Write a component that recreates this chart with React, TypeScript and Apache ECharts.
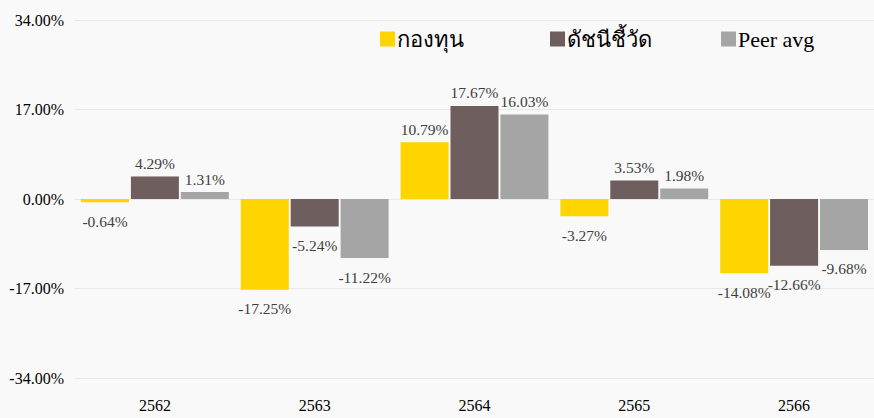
import React, { useEffect, useRef } from "react";
import * as echarts from "echarts";

const categories = ["2562", "2563", "2564", "2565", "2566"];
const seriesNames = ["กองทุน", "ดัชนีชี้วัด", "Peer avg"];
const fundValues = [-0.64, -17.25, 10.79, -3.27, -14.08];
const benchmarkValues = [4.29, -5.24, 17.67, 3.53, -12.66];
const peerValues = [1.31, -11.22, 16.03, 1.98, -9.68];
const colors = ["#FFD500", "#6E5E5D", "#A5A5A5"];

const FONT = "'Liberation Serif', 'Times New Roman', serif";

function makeData(vals: number[]) {
  return vals.map((v) => ({
    value: v,
    label: {
      position: v >= 0 ? "top" : "bottom",
      distance: v >= 0 ? 5 : 11,
    },
  }));
}

export default function App() {
  const ref = useRef<HTMLDivElement>(null);
  useEffect(() => {
    document.body.style.margin = "0";
    const chart = echarts.init(ref.current!, undefined, { renderer: "svg" });
    const allVals = [fundValues, benchmarkValues, peerValues];
    const legendLefts = [375, 545, 716];
    chart.setOption({
      animation: false,
      backgroundColor: "#F9F9F9",
      textStyle: { fontFamily: FONT },
      grid: { left: 75, right: 0, top: 20, bottom: 40, containLabel: false },
      legend: seriesNames.map((n, i) => ({
        data: [n],
        left: legendLefts[i],
        top: 23,
        icon: "rect",
        itemWidth: 15,
        itemHeight: 15,
        itemGap: 0,
        textStyle: { fontFamily: FONT, fontSize: 22, color: "#000", padding: [0, 0, 0, -3] },
      })),
      xAxis: {
        type: "category",
        data: categories,
        axisLine: { show: false },
        axisTick: { show: false },
        axisLabel: { fontFamily: FONT, fontSize: 16, color: "#000", margin: 19 },
      },
      yAxis: {
        type: "value",
        min: -34,
        max: 34,
        interval: 17,
        axisLine: { show: false },
        axisTick: { show: false },
        splitLine: { lineStyle: { color: "#E8E8E8", width: 1 } },
        axisLabel: {
          fontFamily: FONT,
          fontSize: 16,
          color: "#000",
          margin: 11,
          formatter: (v: number) => v.toFixed(2) + "%",
        },
      },
      series: seriesNames.map((n, i) => ({
        name: n,
        type: "bar",
        data: makeData(allVals[i]),
        itemStyle: { color: colors[i] },
        barGap: "4%",
        barCategoryGap: "7.5%",
        label: {
          show: true,
          fontFamily: FONT,
          fontSize: 15.5,
          color: "#404040",
          formatter: (p: any) => p.value.toFixed(2) + "%",
        },
      })),
    });
    return () => chart.dispose();
  }, []);
  return <div ref={ref} style={{ width: 874, height: 418 }} />;
}
